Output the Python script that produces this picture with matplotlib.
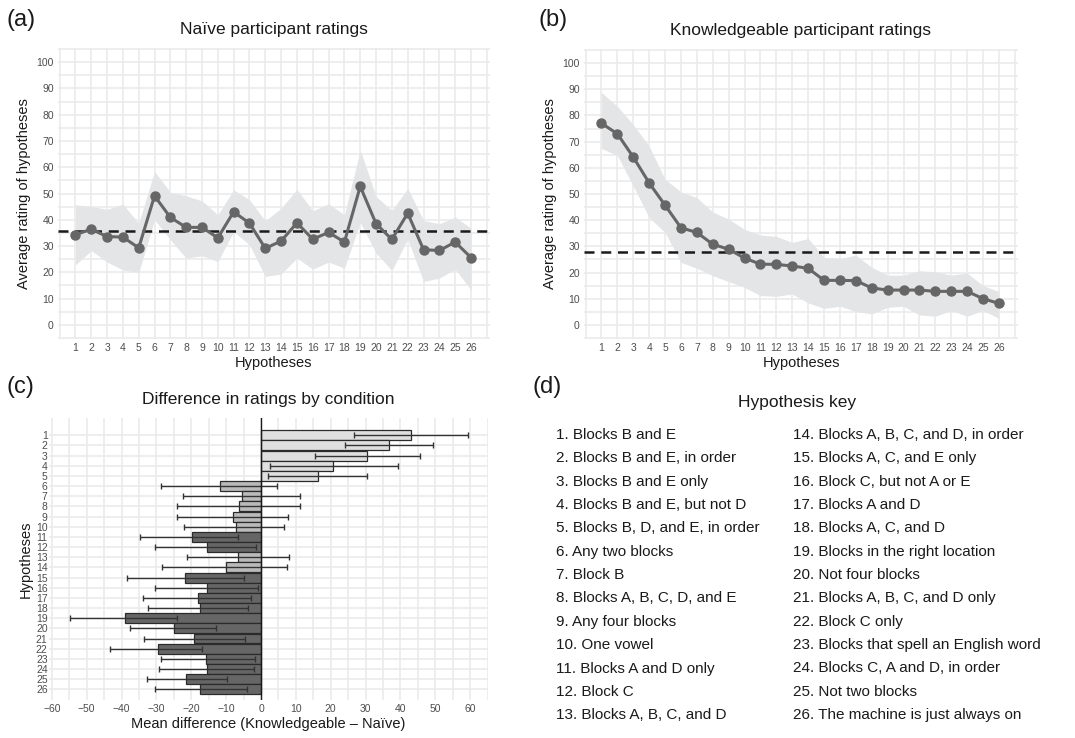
import matplotlib
matplotlib.use("Agg")
import matplotlib.pyplot as plt
import numpy as np

plt.rcParams['font.family'] = ['Liberation Sans', 'DejaVu Sans']

# ---------------- data ----------------
hypotheses = list(range(1, 27))

naive_mean = [34.3, 36.4, 33.6, 33.4, 29.3, 49.1, 40.9, 37.1, 37.1, 33.1, 43.0, 38.7, 29.1,
              31.9, 38.8, 32.6, 35.2, 31.5, 52.7, 38.5, 32.5, 42.5, 28.6, 28.3, 31.5, 25.6]
naive_hi = [45.7, 45.1, 44.0, 45.9, 38.7, 58.4, 50.5, 49.1, 47.2, 41.9, 51.4, 47.6, 39.6,
            44.4, 51.6, 43.4, 46.1, 41.9, 66.6, 48.9, 43.5, 52.0, 39.7, 38.5, 41.0, 36.8]
naive_lo = [22.8, 28.3, 23.9, 20.9, 19.9, 40.0, 32.4, 25.4, 26.3, 24.1, 35.5, 30.5, 18.4,
            19.4, 25.4, 21.2, 23.9, 21.6, 39.0, 27.3, 20.7, 32.7, 16.5, 17.8, 21.2, 13.3]
naive_ref = 35.8

know_mean = [77.0, 73.0, 64.1, 54.2, 45.7, 37.1, 35.3, 30.8, 28.9, 25.5, 23.2, 23.1, 22.5,
             21.6, 17.0, 17.0, 16.9, 14.1, 13.3, 13.3, 13.3, 12.8, 12.8, 12.8, 10.0, 8.2]
know_hi = [88.8, 83.5, 76.5, 68.3, 55.6, 50.8, 48.6, 43.1, 40.4, 36.5, 34.3, 33.8, 31.5,
           33.0, 25.8, 25.4, 26.6, 22.0, 19.0, 19.0, 20.7, 20.3, 19.0, 19.8, 15.0, 12.7]
know_lo = [67.4, 64.7, 53.0, 41.0, 35.3, 23.9, 21.6, 18.8, 16.5, 14.3, 11.2, 10.9, 11.8,
           8.4, 6.3, 7.1, 5.1, 4.2, 6.7, 7.1, 3.8, 3.3, 5.5, 3.3, 5.5, 2.5]
know_ref = 27.9

diff_mean = [42.9, 36.6, 30.4, 20.7, 16.4, -11.9, -5.5, -6.2, -7.9, -7.2, -19.8, -15.4, -6.6,
             -10.0, -21.7, -15.6, -18.1, -17.4, -39.1, -25.0, -19.2, -29.5, -15.7, -15.4, -21.4, -17.4]
diff_lo = [26.8, 24.0, 15.4, 2.6, 2.0, -28.7, -22.5, -24.1, -24.2, -22.1, -34.7, -30.4, -21.2,
           -28.4, -38.3, -30.4, -33.8, -32.4, -54.9, -37.6, -33.6, -43.2, -28.7, -29.2, -32.7, -30.3]
diff_hi = [59.5, 49.4, 45.7, 39.2, 30.5, 4.7, 11.1, 11.3, 7.6, 6.5, -6.5, -1.4, 8.1,
           7.5, -5.0, -0.8, -2.8, -3.7, -24.2, -12.8, -4.5, -17.0, -1.8, -2.0, -9.8, -3.9]
diff_group = ['pos'] * 5 + ['ns'] * 5 + ['neg', 'neg', 'ns', 'ns'] + ['neg'] * 12

key_labels = [
    "Blocks B and E", "Blocks B and E, in order", "Blocks B and E only",
    "Blocks B and E, but not D", "Blocks B, D, and E, in order", "Any two blocks",
    "Block B", "Blocks A, B, C, D, and E", "Any four blocks", "One vowel",
    "Blocks A and D only", "Block C", "Blocks A, B, C, and D",
    "Blocks A, B, C, and D, in order", "Blocks A, C, and E only",
    "Block C, but not A or E", "Blocks A and D", "Blocks A, C, and D",
    "Blocks in the right location", "Not four blocks", "Blocks A, B, C, and D only",
    "Block C only", "Blocks that spell an English word", "Blocks C, A and D, in order",
    "Not two blocks", "The machine is just always on",
]

# ---------------- style ----------------
GRID = '#ebebeb'
TICK = '#4d4d4d'
LINE = '#666666'
RIBBON = '#e4e5e7'
group_colors = {'pos': '#dfdfe0', 'ns': '#bababa', 'neg': '#666666'}

W, H = 1075, 738
fig = plt.figure(figsize=(W / 100, H / 100), dpi=100)


def fbox(l, t, r, b):
    return [l / W, 1 - b / H, (r - l) / W, (b - t) / H]


def style_axes(ax):
    for s in ax.spines.values():
        s.set_visible(False)
    ax.tick_params(length=0, labelsize=7.5, labelcolor=TICK, pad=3)
    ax.set_axisbelow(True)


def rating_panel(ax, mean, lo, hi, ref, title):
    x = np.array(hypotheses)
    style_axes(ax)
    ax.set_xlim(-0.1, 27.2)
    ax.set_ylim(-5.4, 105.4)
    ax.set_xticks(hypotheses)
    ax.set_xticks(np.arange(0, 28), minor=True)
    ax.set_yticks(np.arange(0, 101, 10))
    ax.set_yticks(np.arange(-5, 106, 5), minor=True)
    ax.grid(True, which='both', color=GRID, lw=1.2)
    ax.tick_params(which='minor', length=0)
    ax.fill_between(x, lo, hi, color=RIBBON, lw=0, zorder=1)
    ax.axhline(ref, color='#1a1a1a', lw=1.8, dashes=(4, 2.7), zorder=2)
    ax.plot(x, mean, color=LINE, lw=2.2, marker='o', ms=6.5, zorder=3)
    ax.set_xlabel('Hypotheses', fontsize=10.5, color='#1a1a1a', labelpad=2)
    ax.set_ylabel('Average rating of hypotheses', fontsize=10.5, color='#1a1a1a', labelpad=4)
    ax.set_title(title, fontsize=12.5, color='#1a1a1a', pad=10)


# panel (a)
ax_a = fig.add_axes(fbox(58, 48, 490, 339))
rating_panel(ax_a, naive_mean, naive_lo, naive_hi, naive_ref, 'Naïve participant ratings')

# panel (b)
ax_b = fig.add_axes(fbox(584, 49, 1018, 339))
rating_panel(ax_b, know_mean, know_lo, know_hi, know_ref, 'Knowledgeable participant ratings')

# panel (c)
ax_c = fig.add_axes(fbox(49, 418, 488, 700))
style_axes(ax_c)
y = np.array(hypotheses)
colors = [group_colors[g] for g in diff_group]
ax_c.barh(y, diff_mean, height=0.98, color=colors, edgecolor='#2b2b2b', lw=0.9, zorder=2)
err_lo = np.array(diff_mean) - np.array(diff_lo)
err_hi = np.array(diff_hi) - np.array(diff_mean)
ax_c.errorbar(diff_mean, y, xerr=[err_lo, err_hi], fmt='none', ecolor='#333333',
              elinewidth=1.0, capsize=2.2, capthick=1.0, zorder=3)
ax_c.axvline(0, color='#1a1a1a', lw=1.0, zorder=4)
ax_c.set_xlim(-60.8, 65.1)
ax_c.set_ylim(27.05, -0.7)
ax_c.set_yticks(hypotheses)
ax_c.set_xticks(np.arange(-60, 61, 10))
ax_c.set_xticks(np.arange(-60, 66, 5), minor=True)
ax_c.set_xticklabels([str(v).replace('-', '\u2212') for v in range(-60, 61, 10)])
ax_c.grid(True, which='both', axis='x', color=GRID, lw=1.2)
ax_c.grid(True, which='major', axis='y', color=GRID, lw=1.2)
ax_c.tick_params(which='minor', length=0)
ax_c.tick_params(axis='y', pad=1)
ax_c.set_xlabel('Mean difference (Knowledgeable \u2013 Naïve)', fontsize=10.5, color='#1a1a1a', labelpad=2)
ax_c.set_ylabel('Hypotheses', fontsize=10.5, color='#1a1a1a', labelpad=2)
ax_c.set_title('Difference in ratings by condition', fontsize=12.5, color='#1a1a1a', pad=10)

# panel (d)
fig.text(797 / W, 1 - 403 / H, 'Hypothesis key', ha='center', va='center', fontsize=12.5, color='#1a1a1a')
for i, lab in enumerate(key_labels):
    col = i // 13
    row = i % 13
    xpx = 556 if col == 0 else 793
    ypx = 435 + row * 23.35
    fig.text(xpx / W, 1 - ypx / H, f'{i + 1}. {lab}', ha='left', va='center',
             fontsize=11, color='#1a1a1a')

# panel letters
for lab, xpx, ypx in [('(a)', 6, 20), ('(b)', 539, 20), ('(c)', 6, 387), ('(d)', 532, 387)]:
    fig.text(xpx / W, 1 - ypx / H, lab, ha='left', va='center', fontsize=17, color='#1a1a1a')

fig.savefig('out.png', dpi=100)
